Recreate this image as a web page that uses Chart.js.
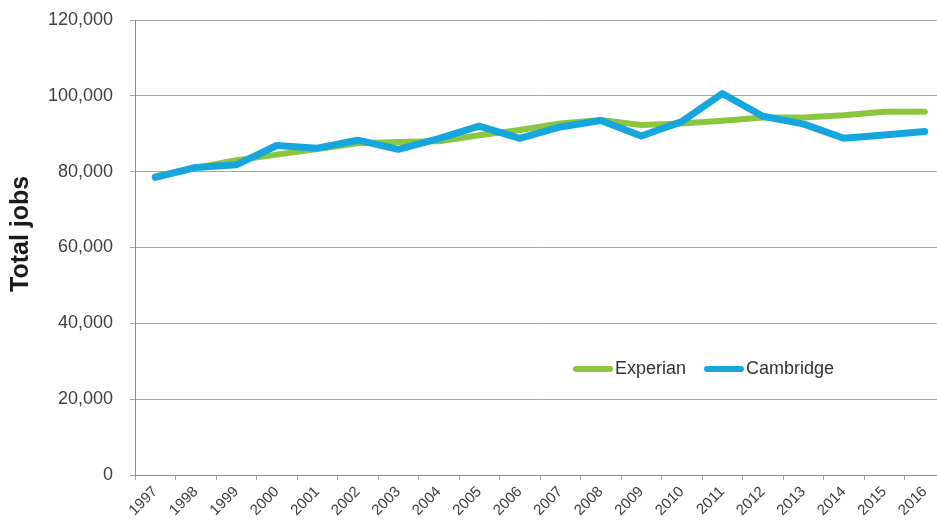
<!DOCTYPE html>
<html>
<head>
<meta charset="utf-8">
<script src="https://cdn.jsdelivr.net/npm/chart.js@4/dist/chart.umd.min.js"></script>
<style>
  html, body { margin: 0; padding: 0; background: #fff; overflow: hidden; }
  #wrap { position: relative; width: 948px; height: 520px; }
  #legend {
    position: absolute; left: 573px; top: 358px;
    font: 18px "Liberation Sans", Arial, sans-serif; color: #333;
    display: flex; align-items: center; white-space: nowrap;
  }
  #legend .item { display: flex; align-items: center; margin-right: 18px; }
  #legend .swatch { display: inline-block; height: 6px; border-radius: 3px; margin-right: 2px; }
</style>
</head>
<body>
<div id="wrap">
  <canvas id="jobs" width="948" height="520"></canvas>
  <div id="legend"></div>
</div>
<script>
const years = ['1997', '1998', '1999', '2000', '2001', '2002', '2003', '2004', '2005', '2006',
  '2007', '2008', '2009', '2010', '2011', '2012', '2013', '2014', '2015', '2016'];
const experian = [78800, 81000, 83000, 84500, 86000, 87500, 87800, 88000, 89600, 91000,
  92700, 93600, 92300, 92700, 93400, 94300, 94300, 94900, 95800, 95800];
const cambridge = [78500, 81100, 81800, 86900, 86200, 88300, 85900, 88700, 92000, 88800,
  91800, 93500, 89400, 93200, 100600, 94600, 92600, 88800, 89700, 90600];
const yTicks = [0, 20000, 40000, 60000, 80000, 100000, 120000];

const seriesNames = ['Experian', 'Cambridge'];
const seriesColors = ['#8cc63f', '#16a6de'];
const seriesWidths = [6, 7];

const fontFamily = '"Liberation Sans", Arial, sans-serif';

// rotated axis title, placed a little above the middle of the plot
const yTitle = {
  id: 'yTitle',
  afterDraw(c) {
    const ctx = c.ctx;
    const area = c.chartArea;
    ctx.save();
    ctx.translate(21, area.top + (area.bottom - area.top) * 0.47);
    ctx.rotate(-Math.PI / 2);
    ctx.font = 'bold 25px ' + fontFamily;
    ctx.fillStyle = '#1a1a1a';
    ctx.textAlign = 'center';
    ctx.textBaseline = 'middle';
    ctx.fillText('Total jobs', 0, 0);
    ctx.restore();
  },
};

const chart = new Chart(document.getElementById('jobs'), {
  type: 'line',
  data: {
    labels: years,
    datasets: [experian, cambridge].map((values, i) => ({
      label: seriesNames[i],
      data: values,
      order: seriesNames.length - i,
      borderColor: seriesColors[i],
      backgroundColor: seriesColors[i],
      borderWidth: seriesWidths[i],
      pointRadius: 0,
      tension: 0,
      borderJoinStyle: 'round',
      borderCapStyle: 'round',
    })),
  },
  plugins: [yTitle],
  options: {
    responsive: false,
    animation: false,
    layout: { padding: { top: 20, right: 3, left: 0, bottom: 0 } },
    plugins: {
      legend: { display: false },
      tooltip: { enabled: false },
    },
    scales: {
      x: {
        type: 'category',
        offset: true,
        grid: {
          offset: true,
          drawOnChartArea: false,
          drawTicks: true,
          tickLength: 5,
          color: '#a6a6a6',
        },
        border: { color: '#8c8c8c', width: 1 },
        ticks: {
          minRotation: 45,
          maxRotation: 45,
          autoSkip: false,
          padding: 3,
          color: '#404040',
          font: { family: fontFamily, size: 15 },
        },
        afterFit: (scale) => { scale.height = 45; },
      },
      y: {
        min: 0,
        max: 120000,
        afterBuildTicks: (scale) => { scale.ticks = yTicks.map((v) => ({ value: v })); },
        grid: {
          color: '#a6a6a6',
          tickLength: 5,
          drawTicks: true,
        },
        border: { color: '#8c8c8c', width: 1 },
        ticks: {
          padding: 17,
          color: '#404040',
          font: { family: fontFamily, size: 18 },
          callback: (v) => v.toLocaleString('en-GB'),
        },
        afterFit: (scale) => {
          scale.width = 135;
          scale.paddingTop = 0;
          scale.paddingBottom = 0;
        },
      },
    },
  },
});

// legend built from the same series names and colours
const legendEl = document.getElementById('legend');
seriesNames.forEach((name, i) => {
  const item = document.createElement('span');
  item.className = 'item';
  const sw = document.createElement('span');
  sw.className = 'swatch';
  sw.style.width = '40px';
  sw.style.background = seriesColors[i];
  item.appendChild(sw);
  item.appendChild(document.createTextNode(name));
  legendEl.appendChild(item);
});
</script>
</body>
</html>
